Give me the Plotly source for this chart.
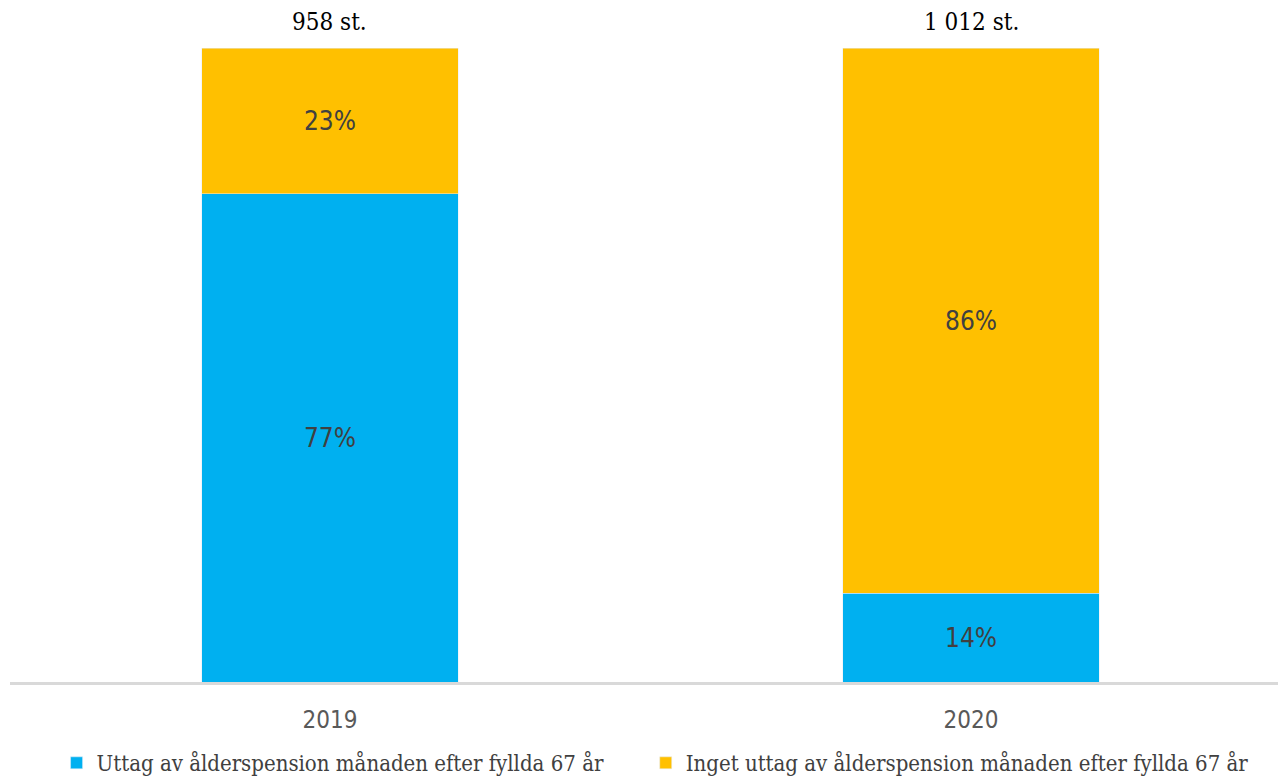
import plotly.graph_objects as go

years = ["2019", "2020"]
uttag = [77, 14]
inget = [23, 86]
totals = ["958 st.", "1 012 st."]
series_names = ["Uttag av ålderspension månaden efter fyllda 67 år",
                "Inget uttag av ålderspension månaden efter fyllda 67 år"]

BLUE = "#00B0F0"
YELLOW = "#FFC000"
sans = "Liberation Sans Narrow, DejaVu Sans Condensed, Arial Narrow, sans-serif"
serif = "DejaVu Serif Condensed, DejaVu Serif, Liberation Serif, serif"

fig = go.Figure()
fig.add_trace(go.Bar(
    x=years, y=uttag, name=series_names[0], marker_color=BLUE, width=0.4,
    text=[f"{v}%" for v in uttag], textposition="inside", insidetextanchor="middle",
    textfont=dict(family=sans, size=26, color="#404040"), legend="legend",
))
fig.add_trace(go.Bar(
    x=years, y=inget, name=series_names[1], marker_color=YELLOW, width=0.4,
    text=[f"{v}%" for v in inget], textposition="inside", insidetextanchor="middle",
    textfont=dict(family=sans, size=26, color="#404040"), legend="legend2",
))

for i, t in enumerate(totals):
    fig.add_annotation(x=i, y=100, xref="x", yref="y", text=t, showarrow=False,
                       yanchor="bottom", yshift=10,
                       font=dict(family=serif, size=24, color="#000000"))

legend_common = dict(orientation="h", xanchor="left", yref="container", y=0.022,
                     yanchor="middle", xref="container",
                     font=dict(family=serif, size=22, color="#404040"))

fig.update_layout(
    barmode="stack",
    width=1278, height=772,
    margin=dict(l=2, r=0, t=40, b=98),
    plot_bgcolor="white", paper_bgcolor="white",
    showlegend=True,
    legend=dict(x=0.038, **legend_common),
    legend2=dict(x=0.499, **legend_common),
    xaxis=dict(type="category", range=[-0.4992, 1.4914], showline=True,
               linecolor="#D9D9D9", linewidth=3, ticks="", ticklabelstandoff=14,
               tickfont=dict(family=sans, size=24, color="#595959")),
    yaxis=dict(range=[0, 100], visible=False),
    bargap=0.6,
)

fig.write_html("out.html")
